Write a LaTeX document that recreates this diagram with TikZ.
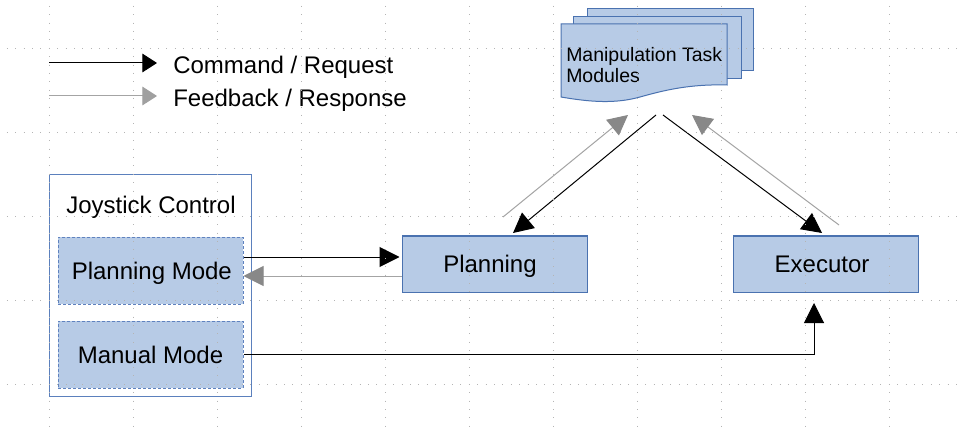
\documentclass[tikz,border=0pt]{standalone}
\usepackage{fontspec}
\setmainfont{Liberation Sans}
\usetikzlibrary{arrows.meta,calc}
\definecolor{fillcol}{HTML}{B7CBE6}
\definecolor{bordercol}{HTML}{4A72B0}
\definecolor{dashcol}{HTML}{5F82BF}
\definecolor{outercol}{HTML}{5B80BD}
\definecolor{linegray}{HTML}{A4A4A4}
\definecolor{headgray}{HTML}{888888}
\definecolor{dotcol}{HTML}{B4B4B4}
\tikzset{
  bigtext/.style={font=\fontsize{18}{21.6}\selectfont},
  box/.style={draw=bordercol, fill=fillcol, line width=0.75pt, inner sep=0pt,
    text height=12.9pt, text depth=0pt, bigtext},
  modebox/.style={box, draw=dashcol, dash pattern=on 2.25pt off 1.5pt},
  outerbox/.style={draw=outercol, fill=white, line width=0.75pt, inner sep=0pt},
  docpage/.style={draw=bordercol, fill=fillcol, line width=0.75pt},
  cmd/.style={draw=black, line width=0.75pt, -{Triangle[length=15pt,width=15pt]}},
  fb/.style={draw=linegray, line width=0.75pt, -{Triangle[length=15pt,width=15pt,color=headgray]}},
  legcmd/.style={draw=black, line width=0.75pt, -{Triangle[length=11pt,width=14pt]}},
  legfb/.style={draw=linegray, line width=0.75pt, -{Triangle[length=11pt,width=14pt,color=headgray!80]}},
  dotline/.style={draw=dotcol, line width=0.75pt, dash pattern=on 0.75pt off 5.55pt}
}
\begin{document}
\begin{tikzpicture}[x=0.75pt,y=-0.75pt]
\useasboundingbox[fill=white] (0,0) rectangle (964,431);

% legend
\coordinate (lgA1) at (49,63);
\coordinate (lgA2) at (157,63);
\coordinate (lgB1) at (49,96);
\coordinate (lgB2) at (157,96);
\draw[legcmd] (lgA1) -- (lgA2);
\draw[legfb] (lgB1) -- (lgB2);
\node[bigtext, anchor=base west, inner sep=0pt] (lgtA) at (173,74) {Command / Request};
\node[bigtext, anchor=base west, inner sep=0pt] (lgtB) at (173,107) {Feedback / Response};

% joystick control
\node[outerbox, minimum width=151.5pt, minimum height=165.75pt] (joy) at (150,285.5) {};
\node[bigtext, inner sep=0pt, text height=12.9pt, text depth=0pt] (joytitle) at (151,205) {Joystick Control};
\node[modebox, minimum width=138.75pt, minimum height=50.25pt] (pm) at (150.5,270.5) {\hspace*{2pt}Planning Mode};
\node[modebox, minimum width=138.75pt, minimum height=50.25pt] (mm) at (150.5,354.5) {Manual Mode};

% planning / executor
\node[box, minimum width=138.75pt, minimum height=42pt] (pl) at (494.5,264) {Planning\hspace*{6.75pt}};
\node[box, minimum width=138.75pt, minimum height=42pt] (ex) at (825.5,264) {Executor\hspace*{5.25pt}};

% manipulation task modules (multi-document)
\draw[docpage] (587,9) rectangle (753,71);
\draw[docpage] (573,17) rectangle (741,79);
\draw[docpage] (561,24) -- (727,24) -- (727,85)
  .. controls (690,84) and (665,90) .. (640,97)
  .. controls (615,104) and (590,102) .. (561,97) -- cycle;
\node[anchor=base west, align=left, inner sep=0pt, font=\fontsize{14.6}{15.75}\selectfont] (mod) at (566,83) {Manipulation Task\\Modules};

% connector end points
\coordinate (mA) at (656,115);
\coordinate (mB) at (628,115);
\coordinate (mC) at (663,115);
\coordinate (mD) at (692,115);
\coordinate (plT) at (513,233);
\coordinate (plF) at (503,217);
\coordinate (exT) at (822,233);
\coordinate (exF) at (839,225);
\coordinate (exB) at (814,303);

% connectors
\draw[cmd] ($(pm.east)+(0,-13.5)$) -- ($(pl.west)+(-2,-7)$);
\draw[fb] ($(pl.west)+(0,12)$) -- ($(pm.east)+(0,5.5)$);
\draw[cmd] (mm.east) -| (exB);
\draw[fb] (plF) -- (mB);
\draw[cmd] (mA) -- (plT);
\draw[cmd] (mC) -- (exT);
\draw[fb] (exF) -- (mD);

% dotted grid (drawn over the shapes)
\foreach \i in {0,...,10} {
  \draw[dotline] (49.3+84*\i,5.8) -- (49.3+84*\i,431);
}
\foreach \j in {0,...,4} {
  \draw[dotline] (6.8,48.3+84*\j) -- (964,48.3+84*\j);
}
\end{tikzpicture}
\end{document}
